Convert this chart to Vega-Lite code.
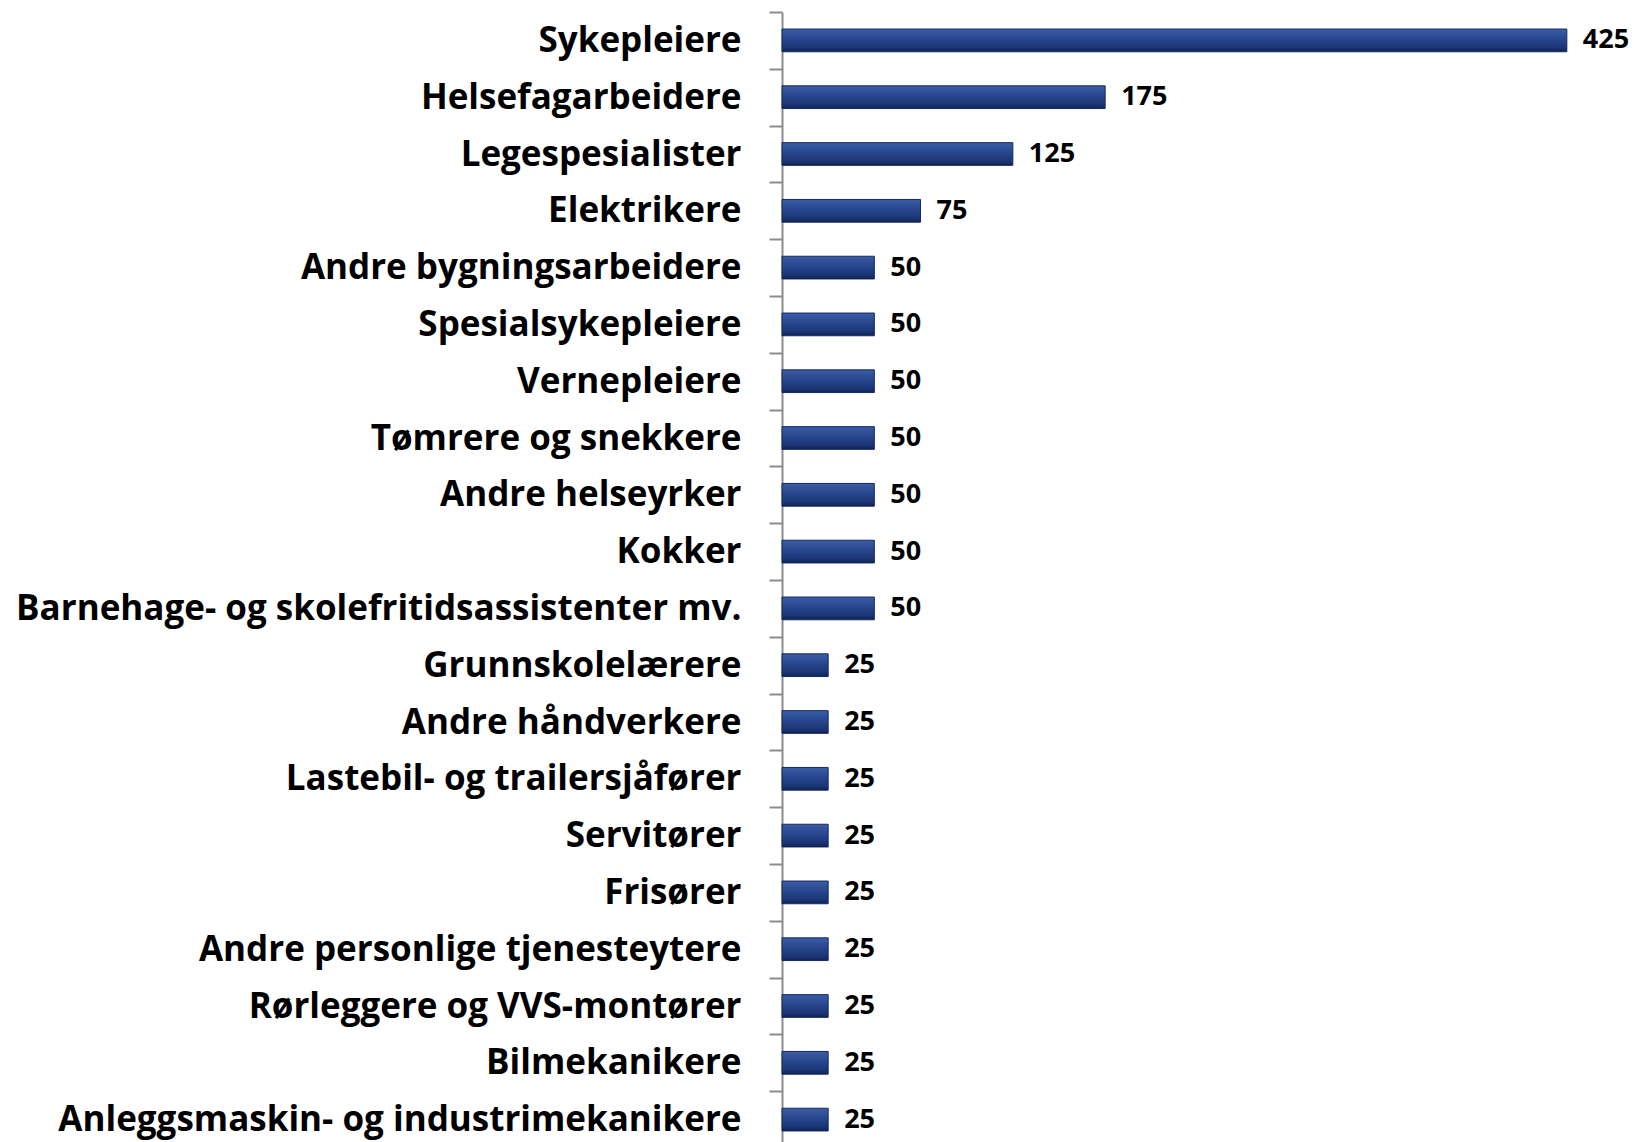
{
  "$schema": "https://vega.github.io/schema/vega-lite/v6.json",
  "autosize": {"type": "none"},
  "padding": {"left": 782, "top": 12, "right": 22, "bottom": 0},
  "width": 831,
  "height": 1136,
  "background": "white",
  "config": {"view": {"stroke": null}},
  "data": {"values": [
    {"yrke": "Sykepleiere", "antall": 425},
    {"yrke": "Helsefagarbeidere", "antall": 175},
    {"yrke": "Legespesialister", "antall": 125},
    {"yrke": "Elektrikere", "antall": 75},
    {"yrke": "Andre bygningsarbeidere", "antall": 50},
    {"yrke": "Spesialsykepleiere", "antall": 50},
    {"yrke": "Vernepleiere", "antall": 50},
    {"yrke": "Tømrere og snekkere", "antall": 50},
    {"yrke": "Andre helseyrker", "antall": 50},
    {"yrke": "Kokker", "antall": 50},
    {"yrke": "Barnehage- og skolefritidsassistenter mv.", "antall": 50},
    {"yrke": "Grunnskolelærere", "antall": 25},
    {"yrke": "Andre håndverkere", "antall": 25},
    {"yrke": "Lastebil- og trailersjåfører", "antall": 25},
    {"yrke": "Servitører", "antall": 25},
    {"yrke": "Frisører", "antall": 25},
    {"yrke": "Andre personlige tjenesteytere", "antall": 25},
    {"yrke": "Rørleggere og VVS-montører", "antall": 25},
    {"yrke": "Bilmekanikere", "antall": 25},
    {"yrke": "Anleggsmaskin- og industrimekanikere", "antall": 25}
  ]},
  "encoding": {
    "y": {"field": "yrke", "type": "nominal", "sort": null, "title": null,
      "scale": {"paddingInner": 0.6, "paddingOuter": 0.3},
      "axis": {"tickOffset": -28.4, "labelOffset": 28.4, "tickSize": 13, "tickColor": "#8c8c8c", "tickWidth": 2,
        "domainColor": "#8c8c8c", "domainWidth": 2, "labelPadding": 28,
        "labelFont": "Open Sans", "labelFontWeight": "bold", "labelFontSize": 35, "labelColor": "#000000",
        "labelLimit": 800}},
    "x": {"field": "antall", "type": "quantitative", "title": null,
      "scale": {"domain": [0, 450]}, "axis": null}
  },
  "layer": [
    {"mark": {"type": "bar", "color": {"gradient": "linear", "x1": 0, "y1": 0, "x2": 0, "y2": 1,
      "stops": [{"offset": 0, "color": "#3d5da6"}, {"offset": 0.35, "color": "#2a4a92"}, {"offset": 0.8, "color": "#1c3677"}, {"offset": 1, "color": "#0f2255"}]},
      "stroke": "#142a5e", "strokeWidth": 1}},
    {"mark": {"type": "text", "align": "left", "baseline": "middle", "dx": 16, "font": "Open Sans", "fontWeight": "bold", "fontSize": 27, "color": "#000000"},
      "encoding": {"text": {"field": "antall", "type": "quantitative"}}}
  ]
}
